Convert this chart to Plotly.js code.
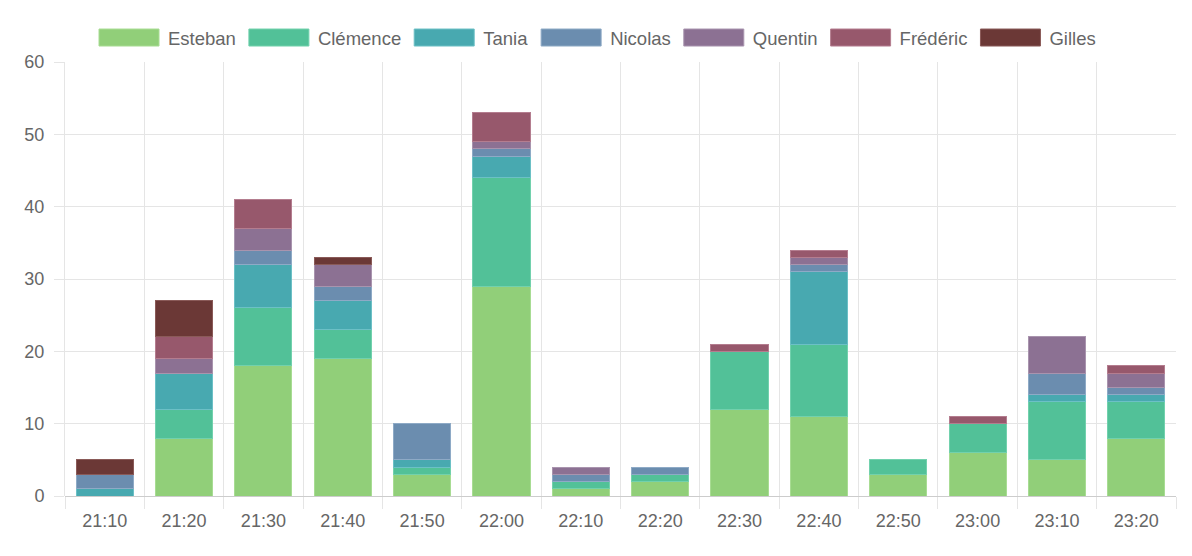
<!DOCTYPE html>
<html>
<head>
<meta charset="utf-8">
<script src="https://cdn.plot.ly/plotly-3.0.1.min.js"></script>
<style>
  html, body { margin: 0; padding: 0; background: #fff; }
  #chart { width: 1192px; height: 556px; }
</style>
</head>
<body>
<div id="chart"></div>
<script>
// time slots
const categories = ['21:10','21:20','21:30','21:40','21:50','22:00','22:10','22:20','22:30','22:40','22:50','23:00','23:10','23:20'];

// one array per person, stacked bottom -> top
const esteban  = [0, 8, 18, 19, 3, 29, 1, 2, 12, 11, 3, 6, 5, 8];
const clemence = [0, 4,  8,  4, 1, 15, 1, 1,  8, 10, 2, 4, 8, 5];
const tania    = [1, 5,  6,  4, 1,  3, 0, 0,  0, 10, 0, 0, 1, 1];
const nicolas  = [2, 0,  2,  2, 5,  1, 1, 1,  0,  1, 0, 0, 3, 1];
const quentin  = [0, 2,  3,  3, 0,  1, 1, 0,  0,  1, 0, 0, 5, 2];
const frederic = [0, 3,  4,  0, 0,  4, 0, 0,  1,  1, 0, 1, 0, 1];
const gilles   = [2, 5,  0,  1, 0,  0, 0, 0,  0,  0, 0, 0, 0, 0];

const yTicks = [0, 10, 20, 30, 40, 50, 60];

const series = [
  {name: 'Esteban',  y: esteban,  color: '#91cf79', edge: '#a8dc93'},
  {name: 'Clémence', y: clemence, color: '#52c198', edge: '#72d1ad'},
  {name: 'Tania',    y: tania,    color: '#48a9b0', edge: '#6cc0c6'},
  {name: 'Nicolas',  y: nicolas,  color: '#6b8daf', edge: '#8eaac6'},
  {name: 'Quentin',  y: quentin,  color: '#8c7193', edge: '#a994ae'},
  {name: 'Frédéric', y: frederic, color: '#97586c', edge: '#b47d8f'},
  {name: 'Gilles',   y: gilles,   color: '#6b3836', edge: '#8a5a58'}
];

const idx = categories.map((c, i) => i);
const bounds = idx.map(i => i - 0.5).concat([categories.length - 0.5]);

// zeros -> null so empty segments don't leave an outline
const traces = series.map(s => ({
  type: 'bar',
  name: s.name,
  x: idx,
  y: s.y.map(v => (v === 0 ? null : v)),
  marker: {color: s.color, line: {color: s.edge, width: 1}},
  hoverinfo: 'name+y'
}));

const gridCol = '#e5e5e5';
const fam = '"Liberation Sans", Arial, Helvetica, sans-serif';
const font = {family: fam, size: 18, color: '#666'};
const legendFont = {family: fam, size: 18.5, color: '#666'};

const layout = {
  width: 1192,
  height: 556,
  margin: {l: 65, r: 16, t: 62, b: 60},
  paper_bgcolor: '#fff',
  plot_bgcolor: '#fff',
  font: font,
  barmode: 'stack',
  bargap: 0.28,
  showlegend: true,
  legend: {
    orientation: 'h',
    x: 0.5, xanchor: 'center', xref: 'container',
    y: 1 - 38 / 556, yanchor: 'middle', yref: 'container',
    itemwidth: 67,
    traceorder: 'normal',
    font: legendFont,
    itemclick: false
  },
  xaxis: {
    range: [-0.5, categories.length - 0.5],
    tickmode: 'array',
    tickvals: idx,
    ticktext: categories,
    ticks: '',
    showgrid: false,
    zeroline: false,
    showline: false,
    tickfont: font,
    ticklabelstandoff: 12,
    minor: {
      tickmode: 'array',
      tickvals: bounds,
      showgrid: true,
      gridcolor: gridCol,
      gridwidth: 1,
      ticks: 'outside',
      ticklen: 12,
      tickcolor: gridCol
    },
    fixedrange: true
  },
  yaxis: {
    range: [0, 60],
    tickmode: 'array',
    tickvals: yTicks,
    ticks: 'outside',
    ticklen: 10,
    tickcolor: gridCol,
    gridcolor: gridCol,
    showline: true,
    linecolor: gridCol,
    zeroline: true,
    zerolinecolor: '#cccccc',
    zerolinewidth: 1,
    tickfont: font,
    ticklabelstandoff: 6,
    fixedrange: true
  }
};

// widen the legend swatches to chart.js style boxes, ending 9px before the label
function wideSwatches() {
  document.querySelectorAll('#chart .legend .traces').forEach(item => {
    const txt = item.querySelector('.legendtext');
    const pts = item.querySelector('.legendpoints');
    if (!txt || !pts) return;
    const tx = parseFloat(txt.getAttribute('x')) || 0;
    const ptsBox = pts.getCTM();
    const itemBox = item.getCTM();
    const px = ptsBox && itemBox ? ptsBox.e - itemBox.e : 0;
    pts.querySelectorAll('path').forEach(p => {
      p.setAttribute('transform', '');
      const left = tx - 9 - 60 - px;
      p.setAttribute('d', 'M' + left + ',-8.5h60v17h-60z');
    });
  });
}

Plotly.newPlot('chart', traces, layout, {displayModeBar: false}).then(gd => {
  wideSwatches();
  gd.on('plotly_afterplot', wideSwatches);
});
</script>
</body>
</html>
